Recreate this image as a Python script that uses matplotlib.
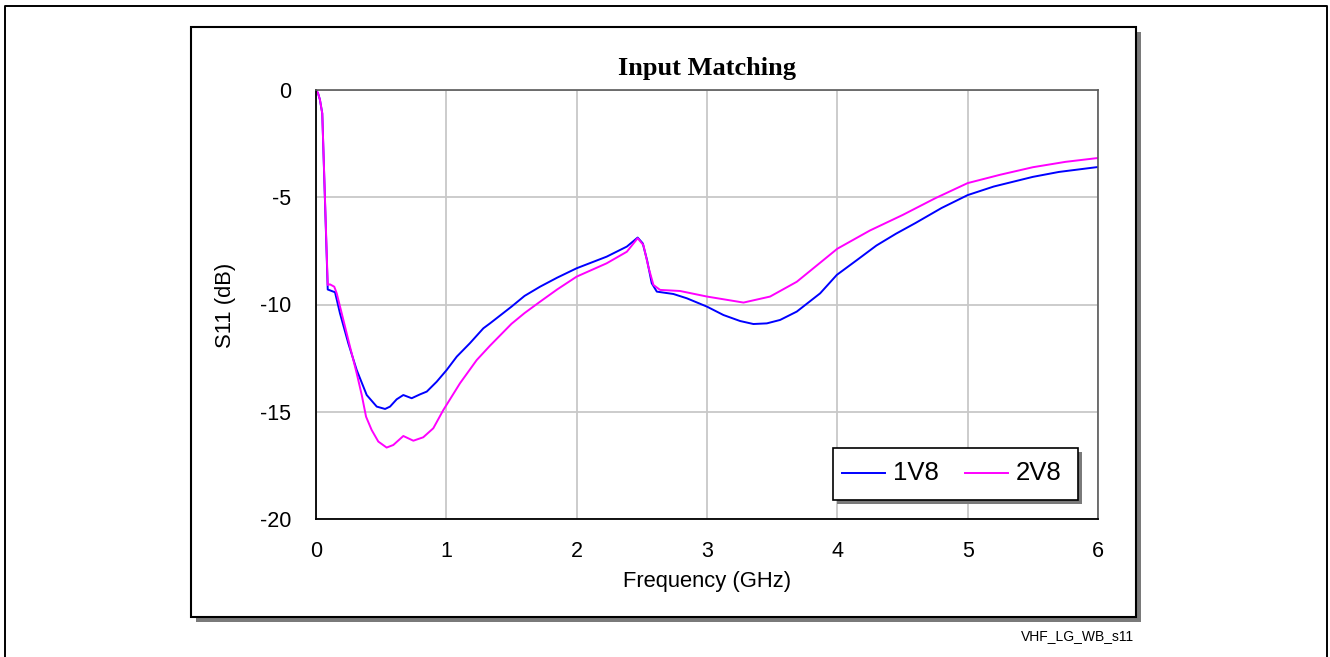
import matplotlib
matplotlib.use("Agg")
import matplotlib.pyplot as plt
from matplotlib.patches import Rectangle
from matplotlib.lines import Line2D

W, H = 1330, 657

# S11 sweep, 1.8 V supply
freq_1v8 = [0.0, 0.015, 0.03, 0.048, 0.09, 0.146, 0.184, 0.248, 0.312, 0.389, 0.466,
            0.53, 0.568, 0.619, 0.67, 0.734, 0.798, 0.85, 0.926, 1.003, 1.08, 1.18,
            1.284, 1.335, 1.5, 1.6, 1.719, 1.85, 2.0, 2.23, 2.385, 2.468, 2.507, 2.54,
            2.576, 2.615, 2.742, 2.845, 3.0, 3.126, 3.254, 3.356, 3.459, 3.561, 3.689,
            3.868, 3.996, 4.15, 4.3, 4.45, 4.6, 4.8, 5.0, 5.2, 5.5, 5.7, 6.0]
s11_1v8 = [0.0, -0.14, -0.45, -1.09, -9.3, -9.43, -10.41, -11.81, -13.05, -14.22, -14.76,
           -14.87, -14.76, -14.42, -14.22, -14.37, -14.19, -14.06, -13.6, -13.05, -12.43, -11.81,
           -11.11, -10.88, -10.1, -9.6, -9.17, -8.75, -8.31, -7.77, -7.3, -6.88, -7.15, -7.93,
           -9.01, -9.4, -9.51, -9.71, -10.1, -10.49, -10.77, -10.91, -10.88, -10.72, -10.33,
           -9.48, -8.62, -7.93, -7.25, -6.7, -6.2, -5.5, -4.9, -4.5, -4.05, -3.82, -3.59]

# S11 sweep, 2.8 V supply
freq_2v8 = [0.0, 0.015, 0.03, 0.048, 0.09, 0.107, 0.14, 0.159, 0.21, 0.261, 0.312, 0.351,
            0.384, 0.427, 0.478, 0.542, 0.593, 0.67, 0.747, 0.823, 0.9, 0.977, 1.105,
            1.233, 1.335, 1.5, 1.6, 1.719, 1.85, 2.0, 2.23, 2.385, 2.468, 2.512, 2.55,
            2.589, 2.64, 2.793, 3.0, 3.28, 3.484, 3.689, 3.893, 4.0, 4.25, 4.5, 4.75,
            5.0, 5.25, 5.5, 5.75, 6.0]
s11_2v8 = [0.0, -0.14, -0.45, -1.09, -9.09, -9.06, -9.17, -9.48, -10.72, -11.97, -13.2, -14.22,
           -15.23, -15.85, -16.39, -16.67, -16.55, -16.13, -16.35, -16.19, -15.77, -14.92, -13.67,
           -12.59, -11.92, -10.9, -10.4, -9.87, -9.3, -8.7, -8.08, -7.54, -6.91, -7.23, -8.24,
           -9.09, -9.32, -9.37, -9.63, -9.91, -9.63, -8.94, -7.93, -7.4, -6.55, -5.83, -5.05,
           -4.34, -3.95, -3.6, -3.35, -3.17]

series_labels = ["1V8", "2V8"]
series_colors = ["#0000ff", "#ff00ff"]
x_ticks = [0, 1, 2, 3, 4, 5, 6]
y_ticks = [0, -5, -10, -15, -20]

title_text = "Input Matching"
x_label = "Frequency (GHz)"
y_label = "S11 (dB)"
footer_text = "VHF_LG_WB_s11"


def fx(px):
    return px / W


def fy(py):
    return 1 - py / H


fig = plt.figure(figsize=(W / 100, H / 100), dpi=100)
fig.patch.set_facecolor("white")

# page border (open at the bottom)
fig.add_artist(Line2D([fx(5.5), fx(5.5), fx(1326.5), fx(1326.5)],
                      [fy(657), fy(5.5), fy(5.5), fy(657)],
                      color="black", lw=1.4, transform=fig.transFigure))

# chart panel with drop shadow
fig.add_artist(Rectangle((fx(196), fy(622)), fx(1141) - fx(196), fy(32) - fy(622),
                         facecolor="#7a7a7a", edgecolor="none",
                         transform=fig.transFigure, zorder=0))
fig.add_artist(Rectangle((fx(191), fy(617)), fx(1136) - fx(191), fy(27) - fy(617),
                         facecolor="white", edgecolor="black", lw=1.5,
                         transform=fig.transFigure, zorder=0.5))

ax = fig.add_axes([fx(316), fy(519), fx(1098) - fx(316), fy(90) - fy(519)])
ax.set_zorder(2)

ax.plot(freq_1v8, s11_1v8, color=series_colors[0], lw=1.4, label=series_labels[0])
ax.plot(freq_2v8, s11_2v8, color=series_colors[1], lw=1.4, label=series_labels[1])

ax.set_xlim(0, 6)
ax.set_ylim(-20, 0)
ax.set_xticks(x_ticks)
ax.set_yticks(y_ticks)
ax.set_xticklabels([str(t) for t in x_ticks])
ax.set_yticklabels([str(t) for t in y_ticks])
ax.grid(True, color="#c8c8c8", lw=1.3)
ax.set_axisbelow(True)
ax.tick_params(length=0, labelsize=15.5, pad=18)
ax.tick_params(axis="x", pad=16)
for lab in ax.get_xticklabels() + ax.get_yticklabels():
    lab.set_fontfamily("Liberation Sans")

for side in ("left", "bottom"):
    ax.spines[side].set_color("black")
    ax.spines[side].set_linewidth(1.3)
for side in ("top", "right"):
    ax.spines[side].set_color("#5a5a5a")
    ax.spines[side].set_linewidth(1.2)

fig.text(fx(707), fy(68), title_text, ha="center", va="center",
         fontsize=19, fontweight="bold", family="Liberation Serif")
fig.text(fx(707), fy(582), x_label, ha="center", va="center",
         fontsize=15.8, family="Liberation Sans")
fig.text(fx(225), fy(305), y_label, ha="center", va="center", rotation=90,
         fontsize=15.8, family="Liberation Sans")
fig.text(fx(1134), fy(636), footer_text, ha="right", va="center",
         fontsize=10, family="Liberation Sans")

# legend box with shadow
fig.add_artist(Rectangle((fx(837), fy(504)), fx(1082) - fx(837), fy(452) - fy(504),
                         facecolor="#7a7a7a", edgecolor="none",
                         transform=fig.transFigure, zorder=3))
fig.add_artist(Rectangle((fx(833), fy(500)), fx(1078) - fx(833), fy(448) - fy(500),
                         facecolor="white", edgecolor="black", lw=1.2,
                         transform=fig.transFigure, zorder=4))
handles, labels = ax.get_legend_handles_labels()
leg_x = [842, 965]
for (hx, h, lab, col) in zip(leg_x, handles, labels, series_colors):
    fig.add_artist(Line2D([fx(hx), fx(hx + 43)], [fy(473), fy(473)], color=col,
                          lw=1.4, transform=fig.transFigure, zorder=5))
    fig.text(fx(hx + 51), fy(473), lab, ha="left", va="center", fontsize=18.5,
             family="Liberation Sans", zorder=6)

fig.savefig("out.png", dpi=100, facecolor="white")
